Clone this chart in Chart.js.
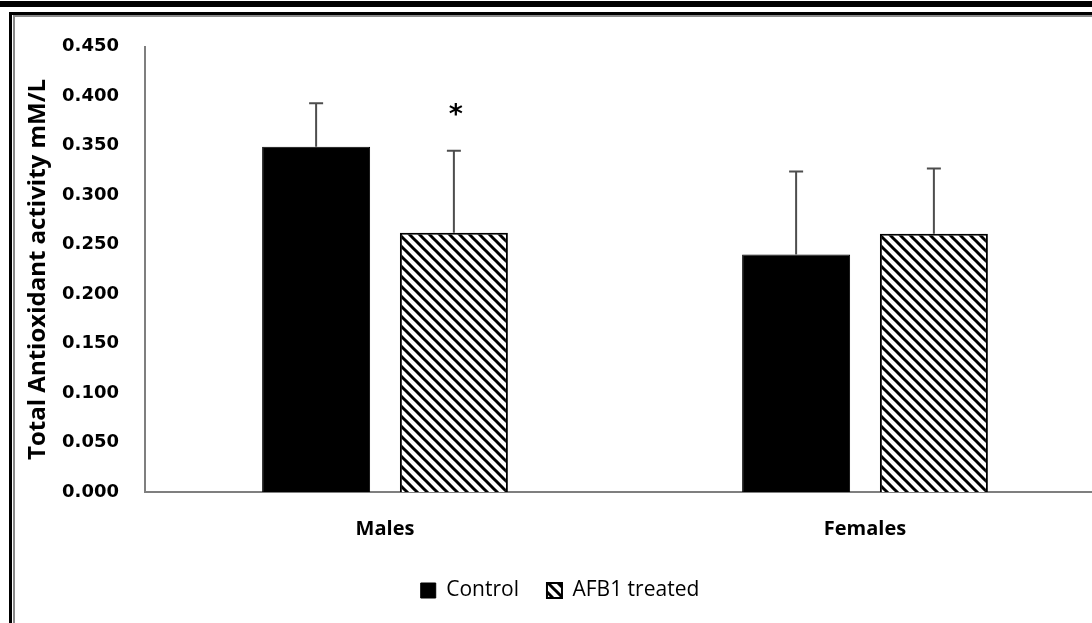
<!DOCTYPE html>
<html>
<head>
<meta charset="utf-8">
<script src="https://cdn.jsdelivr.net/npm/chart.js@4.4.1/dist/chart.umd.min.js"></script>
<style>
  html, body { margin:0; padding:0; background:#fff; overflow:hidden; width:1092px; height:623px; }
  #topbar { position:absolute; left:0; top:1px; width:1092px; height:6px; background:#000; }
  #frame1 { position:absolute; left:9px; top:12px; width:1200px; height:700px; border-left:3px solid #000; border-top:3px solid #000; }
  #frame2 { position:absolute; left:13px; top:15px; width:1200px; height:700px; border-left:2px solid #8a8a8a; border-top:2px solid #8a8a8a; }
  #wrap { position:absolute; left:15px; top:10px; width:1090px; height:609px; }
</style>
</head>
<body>
<div id="topbar"></div>
<div id="frame1"></div>
<div id="frame2"></div>
<div id="wrap"><canvas id="c" width="1090" height="609"></canvas></div>
<script>
// ---- data ----
const categories = ['Males', 'Females'];
const seriesNames = ['Control', 'AFB1 treated'];
const controlValues = [0.349, 0.240];
const afb1Values = [0.262, 0.261];
const controlErrors = [0.044, 0.084];
const afb1Errors = [0.083, 0.066];
const yMin = 0, yMax = 0.45, yStep = 0.05;
const yTitle = 'Total Antioxidant activity mM/L';
// significance markers: [datasetIndex, categoryIndex, label]
const significance = [[1, 0, '*']];

function makeHatch() {
  const s = 10;
  const c = document.createElement('canvas');
  c.width = s; c.height = s;
  const g = c.getContext('2d');
  g.fillStyle = '#fff';
  g.fillRect(0, 0, s, s);
  g.strokeStyle = '#000';
  g.lineWidth = 3;
  g.beginPath();
  g.moveTo(-s, 0); g.lineTo(s, 2 * s);
  g.moveTo(0, 0); g.lineTo(s, s);
  g.moveTo(0, -s); g.lineTo(2 * s, s);
  g.stroke();
  return g.createPattern(c, 'repeat');
}
const hatch = makeHatch();
const errorSets = [controlErrors, afb1Errors];

const errorBarPlugin = {
  id: 'errorBars',
  afterDatasetsDraw(chart) {
    const ctx = chart.ctx;
    const y = chart.scales.y;
    ctx.save();
    ctx.strokeStyle = '#4d4d4d';
    ctx.lineWidth = 2;
    chart.data.datasets.forEach((ds, i) => {
      const meta = chart.getDatasetMeta(i);
      meta.data.forEach((bar, j) => {
        const top = y.getPixelForValue(ds.data[j] + errorSets[i][j]);
        ctx.beginPath();
        ctx.moveTo(bar.x, bar.y);
        ctx.lineTo(bar.x, top);
        ctx.moveTo(bar.x - 7, top);
        ctx.lineTo(bar.x + 7, top);
        ctx.stroke();
      });
    });
    ctx.fillStyle = '#000';
    ctx.font = 'bold 27px "DejaVu Sans"';
    ctx.textAlign = 'center';
    ctx.textBaseline = 'middle';
    significance.forEach(([di, ci, label]) => {
      const bar = chart.getDatasetMeta(di).data[ci];
      const v = chart.data.datasets[di].data[ci] + errorSets[di][ci];
      ctx.fillText(label, bar.x + 2, y.getPixelForValue(v) - 35);
    });
    ctx.restore();
  }
};

new Chart(document.getElementById('c'), {
  type: 'bar',
  data: {
    labels: categories,
    datasets: [
      { label: seriesNames[0], data: controlValues, backgroundColor: '#000', borderColor: '#000', borderWidth: 1,
        categoryPercentage: 0.574, barPercentage: 0.784 },
      { label: seriesNames[1], data: afb1Values, backgroundColor: hatch, borderColor: '#000', borderWidth: 2,
        categoryPercentage: 0.574, barPercentage: 0.784 }
    ]
  },
  options: {
    responsive: false,
    animation: false,
    devicePixelRatio: 1,
    layout: { padding: { top: 21, left: 0, right: 0, bottom: 8 } },
    plugins: {
      legend: {
        position: 'bottom',
        labels: {
          boxWidth: 15, boxHeight: 15, color: '#000', padding: 28,
          font: { family: '"Open Sans"', size: 21 }
        }
      },
      tooltip: { enabled: false }
    },
    scales: {
      x: {
        grid: { display: false, drawTicks: false },
        border: { color: '#7f7f7f', width: 2 },
        ticks: { color: '#000', padding: 25, font: { family: '"Open Sans"', size: 20, weight: 'bold' } },
        afterFit(s) { s.height = 60; }
      },
      y: {
        min: yMin, max: yMax,
        grid: { display: false, drawTicks: false },
        border: { color: '#7f7f7f', width: 2 },
        ticks: {
          stepSize: yStep, color: '#000', padding: 26,
          font: { family: '"DejaVu Sans"', size: 18, weight: 'bold' },
          callback: v => v.toFixed(3)
        },
        title: {
          display: true, text: yTitle, color: '#000', padding: { top: 9, bottom: 0 },
          font: { family: '"Open Sans"', size: 24, weight: 'bold' }
        },
        afterFit(s) { s.width = 130; }
      }
    }
  },
  plugins: [errorBarPlugin]
});
</script>
</body>
</html>
